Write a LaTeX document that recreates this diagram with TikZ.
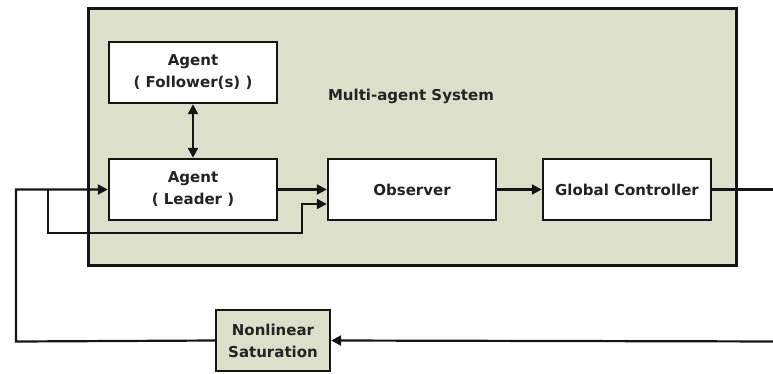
\documentclass[tikz,border=0pt]{standalone}
\usepackage{fontspec}
\setmainfont{DejaVu Sans}
\usetikzlibrary{arrows.meta,calc}
\definecolor{panel}{RGB}{220,223,201}
\definecolor{ink}{RGB}{20,20,20}
\definecolor{txt}{RGB}{35,35,35}
\tikzset{
  block/.style={draw=ink, line width=2.4pt, fill=white, minimum width=168pt,
    minimum height=61pt, inner sep=0pt, align=center, text=txt,
    font=\bfseries\fontsize{15}{22}\selectfont},
  wire/.style={draw=ink, line width=2.2pt},
  tip/.style={-{Triangle[length=10pt,width=10pt]}},
}
\begin{document}
\begin{tikzpicture}[x=1pt,y=-1pt]
\useasboundingbox (0,0) rectangle (773,373);
% enclosing multi-agent system panel
\draw[draw=ink, line width=3pt, fill=panel] (88,8) rectangle (736,265);
\node[text=txt, font=\bfseries\fontsize{15}{18}\selectfont] (mas) at (411,96) {Multi-agent System};

% blocks
\node[block] (fol) at (193,72.5) {Agent\\( Follower(s) )};
\node[block] (lead) at (193,189.5) {Agent\\( Leader )};
\node[block] (obs) at (412,189.5) {Observer};
\node[block] (gc) at (627,189.5) {Global Controller};
\node[block, fill=panel, minimum width=114pt] (sat) at (273,340.5) {Nonlinear\\Saturation};

% auxiliary points of the loop
\coordinate (rtop) at (790,189.5);
\coordinate (rbot) at (790,341.5);
\coordinate (lbot) at (16,341.5);
\coordinate (ltop) at (16,189.5);
\coordinate (split) at (48,189.5);
\coordinate (sb1) at (48,233);
\coordinate (sb2) at (302,233);
\coordinate (sb3) at (302,204);
\coordinate (obsin) at (obs.west |- sb3);

% connectors
\draw[wire, {Triangle[length=10pt,width=10pt]}-{Triangle[length=10pt,width=10pt]}] (fol.south) -- (lead.north);
\draw[wire, tip] (lead.east) -- (obs.west);
\draw[wire, tip] (obs.east) -- (gc.west);
\draw[wire] (gc.east) -- (rtop) -- (rbot);
\draw[wire, tip] (rbot) -- (sat.east);
\draw[wire, tip] (sat.west) -- (lbot) -- (ltop) -- (lead.west);
\draw[wire, tip] (split) -- (sb1) -- (sb2) -- (sb3) -- (obsin);
\end{tikzpicture}
\end{document}
